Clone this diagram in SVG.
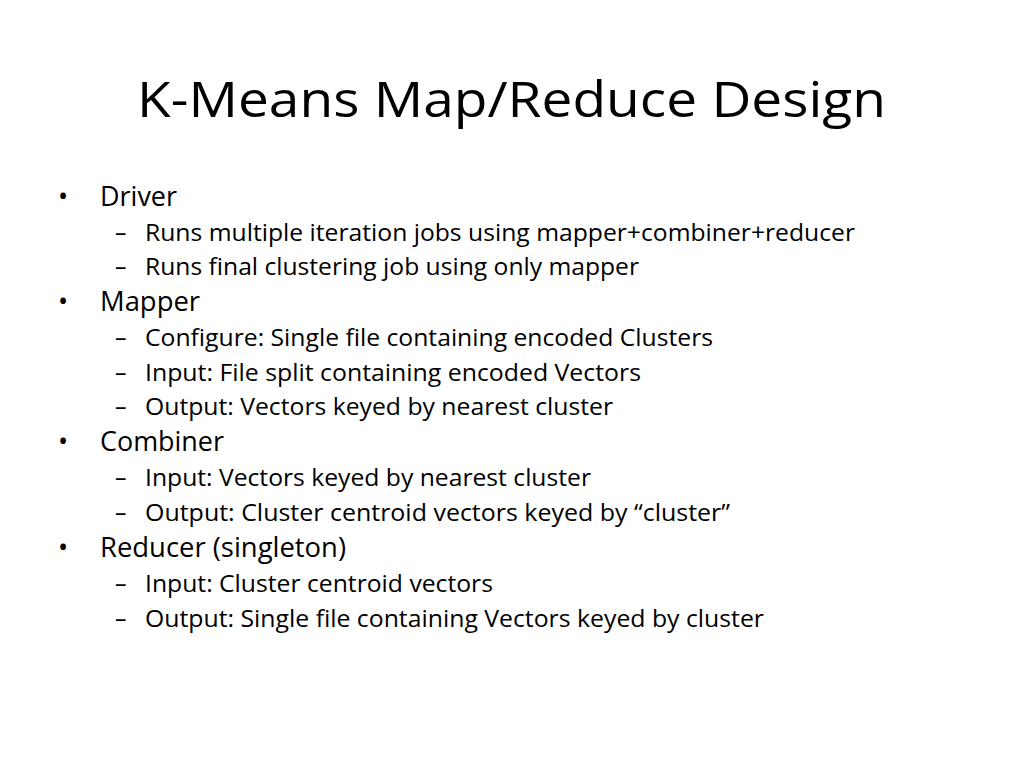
<svg xmlns="http://www.w3.org/2000/svg" width="1024" height="768" viewBox="0 0 1024 768">
<style>
text{font-family:"Open Sans","Liberation Sans",sans-serif;fill:#000}
.t{font-size:50px}
.b{font-size:27px}
.s{font-size:23px}
</style>
<rect width="1024" height="768" fill="#fff"/>
<text class="t" x="137" y="117" textLength="749" lengthAdjust="spacingAndGlyphs">K-Means Map/Reduce Design</text>
<g class="bul">
<text class="b" x="58" y="206">•</text>
<text class="b" x="100" y="206" textLength="77" lengthAdjust="spacingAndGlyphs">Driver</text>
<text class="s" x="115" y="241">–</text>
<text class="s" x="145" y="241" textLength="710" lengthAdjust="spacingAndGlyphs">Runs multiple iteration jobs using mapper+combiner+reducer</text>
<text class="s" x="115" y="275">–</text>
<text class="s" x="145" y="275" textLength="494" lengthAdjust="spacingAndGlyphs">Runs final clustering job using only mapper</text>
<text class="b" x="58" y="311">•</text>
<text class="b" x="100" y="311" textLength="100" lengthAdjust="spacingAndGlyphs">Mapper</text>
<text class="s" x="115" y="346">–</text>
<text class="s" x="145" y="346" textLength="568" lengthAdjust="spacingAndGlyphs">Configure: Single file containing encoded Clusters</text>
<text class="s" x="115" y="381">–</text>
<text class="s" x="145" y="381" textLength="496" lengthAdjust="spacingAndGlyphs">Input: File split containing encoded Vectors</text>
<text class="s" x="115" y="415">–</text>
<text class="s" x="145" y="415" textLength="468" lengthAdjust="spacingAndGlyphs">Output: Vectors keyed by nearest cluster</text>
<text class="b" x="58" y="451">•</text>
<text class="b" x="100" y="451" textLength="124" lengthAdjust="spacingAndGlyphs">Combiner</text>
<text class="s" x="115" y="486">–</text>
<text class="s" x="145" y="486" textLength="446" lengthAdjust="spacingAndGlyphs">Input: Vectors keyed by nearest cluster</text>
<text class="s" x="115" y="521">–</text>
<text class="s" x="145" y="521" textLength="585" lengthAdjust="spacingAndGlyphs">Output: Cluster centroid vectors keyed by “cluster”</text>
<text class="b" x="58" y="557">•</text>
<text class="b" x="100" y="557" textLength="246" lengthAdjust="spacingAndGlyphs">Reducer (singleton)</text>
<text class="s" x="115" y="592">–</text>
<text class="s" x="145" y="592" textLength="348" lengthAdjust="spacingAndGlyphs">Input: Cluster centroid vectors</text>
<text class="s" x="115" y="627">–</text>
<text class="s" x="145" y="627" textLength="619" lengthAdjust="spacingAndGlyphs">Output: Single file containing Vectors keyed by cluster</text>
</g>
</svg>
